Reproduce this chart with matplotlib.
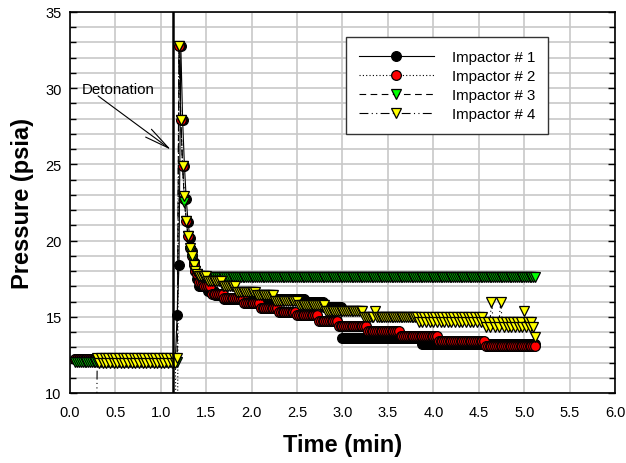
import numpy as np
import matplotlib.pyplot as plt
from matplotlib.ticker import MultipleLocator, FixedLocator

plt.rcParams["font.family"] = ["Liberation Sans", "DejaVu Sans"]

# sampling: one reading every 0.02 min, starting at 0.06 min
t_start = 0.06
t_step = 0.02
n_samples = 254

# pressure readings (psia) as runs of (value, number of samples)
impactor1 = [(12.25, 56), (15.1, 1), (18.4, 1), (32.8, 1), (27.9, 1), (24.9, 1),
             (22.7, 1), (21.2, 1), (20.2, 1), (19.3, 1), (18.6, 1), (18.0, 1),
             (17.5, 1), (17.0, 5), (16.7, 4), (16.4, 5), (16.15, 45), (15.95, 10),
             (15.65, 10), (13.6, 44), (13.2, 63)]

impactor2 = [(12.25, 56), (0.0, 1), (32.8, 1), (27.9, 1), (24.9, 1), (22.7, 1),
             (21.3, 1), (20.3, 1), (19.5, 1), (19.0, 1), (18.4, 1), (18.0, 1),
             (17.8, 1), (17.3, 3), (17.0, 4), (16.5, 7), (16.2, 11), (15.9, 9),
             (15.6, 10), (15.3, 10), (15.1, 12), (14.75, 11), (14.4, 16),
             (14.05, 18), (13.75, 21), (13.4, 26), (13.1, 28)]

impactor3 = [(12.05, 57), (32.8, 1), (27.9, 1), (24.9, 1), (22.5, 1), (21.3, 1),
             (20.3, 1), (19.3, 1), (18.8, 1), (18.4, 1), (18.0, 1), (17.8, 1),
             (17.6, 186)]

impactor4 = ([(np.nan, 11), (0.0, 1)]
             + [(12.3, 1), (12.0, 1)] * 22 + [(12.3, 1)]
             + [(32.8, 1), (27.9, 1), (24.9, 1), (22.9, 1), (21.3, 1), (20.3, 1),
                (19.5, 1), (19.0, 1), (18.4, 1), (18.0, 1), (17.8, 1)]
             + [(17.7, 5), (17.35, 8), (17.0, 8), (16.65, 11), (16.4, 10),
                (16.05, 13), (15.75, 15), (15.35, 21), (15.0, 6), (15.35, 1),
                (15.0, 22)]
             + [(15.0, 1), (14.65, 1)] * 18 + [(15.0, 1)]
             + [(14.65, 1), (14.3, 1)] * 2 + [(16.0, 1)]
             + [(14.65, 1), (14.3, 1)] * 2 + [(16.0, 1)]
             + [(14.65, 1), (14.3, 1)] * 6 + [(15.35, 1)]
             + [(14.3, 1), (14.65, 1), (14.3, 1), (14.65, 1), (14.3, 1), (13.65, 1)])

labels = ["Impactor # 1", "Impactor # 2", "Impactor # 3", "Impactor # 4"]
detonation_time = 1.135


def expand(runs):
    vals, counts = zip(*runs)
    return np.repeat(vals, counts)


time = t_start + t_step * np.arange(n_samples)

fig, ax = plt.subplots(figsize=(6.26, 4.64), dpi=100)
fig.subplots_adjust(left=0.1118, right=0.9824, bottom=0.1509, top=0.972)

styles = [
    dict(ls="-", marker="o", mfc="black"),
    dict(ls=(0, (1, 2)), marker="o", mfc="#ff0000"),
    dict(ls=(0, (6, 4)), marker="v", mfc="#00ff00"),
    dict(ls=(0, (8, 3, 1, 3, 1, 3)), marker="v", mfc="#ffff00"),
]

for runs, lab, st in zip([impactor1, impactor2, impactor3, impactor4], labels, styles):
    ax.plot(time, expand(runs), color="black", lw=0.8, ms=7, mec="black",
            mew=0.9, label=lab, zorder=3, **st)

ax.axvline(detonation_time, color="black", lw=1.8, zorder=5)

# label and arrow for the detonation line
ax.text(0.13, 29.95, "Detonation", fontsize=10.8, ha="left", va="center")
ax.annotate("", xy=(1.112, 25.96), xytext=(0.31, 29.49),
            arrowprops=dict(arrowstyle="->,head_length=1.8,head_width=0.35",
                            color="black", lw=0.8, mutation_scale=10,
                            shrinkA=0, shrinkB=0))

ax.set_xlim(0, 6)
ax.set_ylim(10, 35)
ax.xaxis.set_major_locator(MultipleLocator(0.5))
ax.xaxis.set_minor_locator(FixedLocator([1, 2, 3, 4, 5]))
ax.yaxis.set_major_locator(MultipleLocator(5))
ax.yaxis.set_minor_locator(MultipleLocator(1))

ax.tick_params(axis="x", which="major", length=0, pad=9, labelsize=10.5)
ax.tick_params(axis="x", which="minor", direction="in", length=4, width=1,
               top=True, bottom=True)
ax.tick_params(axis="y", which="major", direction="in", length=5, width=1,
               left=True, right=True, pad=6, labelsize=10.5)
ax.tick_params(axis="y", which="minor", direction="in", length=4, width=1,
               left=True, right=True)

ax.grid(True, axis="x", which="major", color="#c8c8c8", lw=1.2, zorder=0)
ax.grid(True, axis="y", which="both", color="#c8c8c8", lw=1.2, zorder=0)
ax.set_axisbelow(True)

for sp in ax.spines.values():
    sp.set_linewidth(1.2)

ax.set_xlabel("Time (min)", fontsize=17, fontweight="bold", labelpad=10)
ax.set_ylabel("Pressure (psia)", fontsize=17, fontweight="bold", labelpad=8)

leg = ax.legend(loc="upper right", bbox_to_anchor=(0.877, 0.934), fontsize=10.8,
                handlelength=5.0, handletextpad=1.2, labelspacing=0.34,
                borderaxespad=0, fancybox=False, framealpha=1,
                edgecolor="#333333", borderpad=0.85)
leg.get_frame().set_linewidth(1.0)

fig.savefig("out.png", dpi=100)
